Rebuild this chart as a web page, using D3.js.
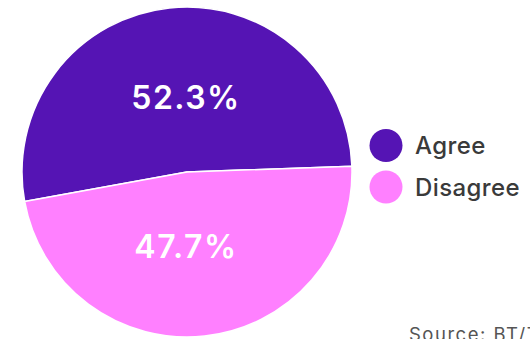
<!DOCTYPE html>
<html>
<head>
    <style>
        body { margin: 0; background: #fff; }
        svg { display: block; font-family: Inter, "Open Sans", sans-serif; }
    </style>
</head>
<body>
    <div id="chart"></div>
    <script src="https://d3js.org/d3.v7.min.js"></script>
    <script>
        // chart data
        const labels = ["Agree", "Disagree"];
        const values = [52.3, 47.7];
        const colors = ["#5514B4", "#FF80FF"];
        const source = "Source: BT/Teleperformance";

        const width = 530, height = 339;
        const cx = 187, cy = 172, radius = 165;

        const svg = d3.select("#chart").append("svg")
            .attr("width", width)
            .attr("height", height);

        const data = labels.map((l, i) => ({ label: l, value: values[i] }));
        const color = d3.scaleOrdinal().domain(labels).range(colors);

        // counter-clockwise, starting just above 3 o'clock
        const start = 88 * Math.PI / 180;
        const pie = d3.pie()
            .sort(null)
            .value(d => d.value)
            .startAngle(start)
            .endAngle(start - 2 * Math.PI);

        const arc = d3.arc().innerRadius(0).outerRadius(radius);
        const labelArc = d3.arc().innerRadius(75).outerRadius(75);

        const g = svg.append("g").attr("transform", `translate(${cx},${cy})`);

        g.selectAll("path")
            .data(pie(data))
            .join("path")
            .attr("d", arc)
            .attr("fill", d => color(d.data.label))
            .attr("stroke", "#fff")
            .attr("stroke-width", 1.5)
            .attr("stroke-linejoin", "round");

        // labels centred horizontally, at the slice's vertical centroid
        g.selectAll("text.pct")
            .data(pie(data))
            .join("text")
            .attr("class", "pct")
            .attr("x", -1)
            .attr("y", d => labelArc.centroid(d)[1])
            .attr("text-anchor", "middle")
            .attr("dy", "0.36em")
            .attr("fill", "#fff")
            .attr("font-size", 32)
            .attr("font-weight", 600)
            .attr("letter-spacing", 1.5)
            .text(d => d.data.value.toFixed(1) + "%");

        // legend
        const legend = svg.append("g").attr("transform", "translate(386,145.5)");
        const item = legend.selectAll("g")
            .data(labels)
            .join("g")
            .attr("transform", (d, i) => `translate(0,${i * 41.5})`);

        item.append("circle")
            .attr("r", 16.5)
            .attr("fill", d => color(d));

        item.append("text")
            .attr("x", 29)
            .attr("dy", "0.36em")
            .attr("fill", "#3a3a3a")
            .attr("font-size", 24)
            .attr("font-weight", 500)
            .attr("letter-spacing", 0.4)
            .text(d => d);

        svg.append("text")
            .attr("x", 409)
            .attr("y", 341)
            .attr("fill", "#555")
            .attr("font-size", 18.5)
            .attr("letter-spacing", 1.5)
            .text(source);
    </script>
</body>
</html>
